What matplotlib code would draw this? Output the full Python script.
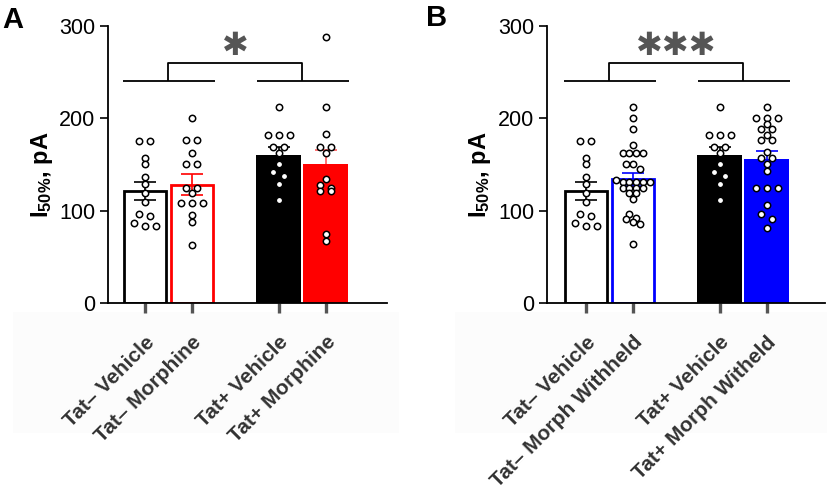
import numpy as np
import matplotlib.pyplot as plt
from matplotlib.patches import Rectangle

plt.rcParams['font.family'] = ['Liberation Sans', 'DejaVu Sans']
plt.rcParams['mathtext.fontset'] = 'custom'
plt.rcParams['mathtext.rm'] = 'Liberation Sans:bold'
plt.rcParams['mathtext.bf'] = 'Liberation Sans:bold'
plt.rcParams['mathtext.it'] = 'Liberation Sans:bold'

# ---- data ----
labels_a = ["Tat\u2013 Vehicle", "Tat\u2013 Morphine", "Tat+ Vehicle", "Tat+ Morphine"]
labels_b = ["Tat\u2013 Vehicle", "Tat\u2013 Morph Withheld", "Tat+ Vehicle", "Tat+ Morph Witheld"]

means_a = [121.4, 128.2, 160.3, 150.2]
sem_a = [10.1, 11.2, 9.0, 15.5]
means_b = [121.4, 134.0, 160.3, 156.0]
sem_b = [10.1, 7.2, 9.0, 8.5]

tat_neg_vehicle = [175, 175, 157, 151, 137, 129, 119, 110, 97, 94, 87, 83, 83]
tat_neg_morphine = [200, 176, 176, 162, 150, 150, 125, 125, 119, 108, 108, 108, 95, 88, 63]
tat_pos_vehicle = [212, 182, 182, 182, 169, 169, 162, 150, 142, 138, 129, 112]
tat_pos_morphine = [288, 212, 183, 169, 169, 162, 134, 128, 125, 121, 121, 75, 67]
tat_neg_withheld = [212, 200, 188, 171, 162, 162, 162, 162, 150, 150, 145, 133, 131, 131,
                    131, 131, 131, 125, 125, 125, 125, 119, 119, 113, 97, 92, 91, 88, 86, 64]
tat_pos_withheld = [212, 200, 200, 200, 194, 188, 188, 182, 176, 176, 163, 157, 157, 150,
                    143, 125, 125, 125, 106, 96, 91, 81]

positions = [0, 1, 2.85, 3.85]

RED = '#ff0000'
BLUE = '#0000ff'
GREY = '#333333'


def swarm_offsets(vals, px_per_x, step_px=11.0, width_px=34.0, row_gap=5.5):
    vals = np.asarray(vals, dtype=float)
    order = np.argsort(-vals, kind='stable')
    rows = []
    for i in order:
        if rows and vals[rows[-1][0]] - vals[i] < row_gap:
            rows[-1].append(i)
        else:
            rows.append([i])
    longest = max(len(r) for r in rows)
    step = step_px if longest < 2 else min(step_px, width_px / (longest - 1))
    off = np.zeros(len(vals))
    for r in rows:
        k = len(r)
        for j, i in enumerate(r):
            off[i] = (j - (k - 1) / 2) * step / px_per_x
    return off


def panel(ax, labels, means, sems, dots, colors, err_colors, filled, stars, xlim):
    ax.set_xlim(*xlim)
    ax.set_ylim(0, 300)
    px_per_x = ax.bbox.width / (xlim[1] - xlim[0])
    for i in range(4):
        x = positions[i]
        if filled[i]:
            ax.bar(x, means[i], width=0.96, color=colors[i], edgecolor='none', zorder=1)
            ez = 0.5
        else:
            ax.bar(x, means[i], width=0.89, color='white', edgecolor=colors[i],
                   linewidth=2.0, zorder=1)
            ez = 2
        ax.errorbar(x, means[i], yerr=sems[i], color=err_colors[i], capsize=8,
                    elinewidth=1.2, capthick=1.2, zorder=ez)
        off = swarm_offsets(dots[i], px_per_x)
        ax.scatter(x + off, dots[i], s=21, facecolor='white', edgecolor='black',
                   linewidth=1.1, zorder=3, clip_on=False)

    # significance bracket
    mid1 = (positions[0] + positions[1]) / 2
    mid2 = (positions[2] + positions[3]) / 2
    kw = dict(color='black', lw=1.3, solid_capstyle='butt', clip_on=False)
    ax.plot([positions[0] - 0.47, positions[1] + 0.5], [240, 240], **kw)
    ax.plot([positions[2] - 0.47, positions[3] + 0.5], [240, 240], **kw)
    ax.plot([mid1, mid1, mid2, mid2], [240, 260, 260, 240], **kw)
    ax.text((mid1 + mid2) / 2, 261, stars, ha='center', va='bottom', fontsize=23,
            color='#555555', family=['DejaVu Sans'])

    for s in ['top', 'right']:
        ax.spines[s].set_visible(False)
    ax.spines['left'].set_linewidth(1.3)
    ax.spines['bottom'].set_linewidth(1.3)
    ax.set_yticks([0, 100, 200, 300])
    ax.tick_params(axis='y', length=6, width=1.2, labelsize=15.5, pad=3)
    ax.set_xticks(positions)
    ax.set_xticklabels(labels, rotation=45, ha='right', rotation_mode='anchor',
                       fontsize=15, fontweight='bold', color=GREY)
    ax.tick_params(axis='x', length=7, width=2.4, color='#555555', pad=14)


fig = plt.figure(figsize=(8.28, 4.99), dpi=100)
W, H = 828, 499

# faint label background boxes
fig.patches.append(Rectangle((13 / W, 1 - 433 / H), 386 / W, 121 / H,
                             transform=fig.transFigure, facecolor='#fcfcfc',
                             edgecolor='none', zorder=-1))
fig.patches.append(Rectangle((455 / W, 1 - 433 / H), 372 / W, 121 / H,
                             transform=fig.transFigure, facecolor='#fcfcfc',
                             edgecolor='none', zorder=-1))

ax_a = fig.add_axes([108 / W, 1 - 303.3 / H, 279 / W, 277.6 / H])
ax_b = fig.add_axes([546.7 / W, 1 - 303.3 / H, 278.3 / W, 277.6 / H])
ax_a.patch.set_alpha(0)
ax_b.patch.set_alpha(0)

panel(ax_a, labels_a, means_a, sem_a,
      [tat_neg_vehicle, tat_neg_morphine, tat_pos_vehicle, tat_pos_morphine],
      ['black', RED, 'black', RED], ['black', RED, 'black', '#ff5a5a'],
      [False, False, True, True], "\u2731", (-0.787, 5.15))
panel(ax_b, labels_b, means_b, sem_b,
      [tat_neg_vehicle, tat_neg_withheld, tat_pos_vehicle, tat_pos_withheld],
      ['black', BLUE, 'black', BLUE], ['black', BLUE, 'black', BLUE],
      [False, False, True, True], "\u2731\u2731\u2731", (-0.83, 5.09))

ylab = r"I$_{50\%}$, pA"
fig.text(42 / W, 1 - 175 / H, ylab, rotation=90, ha='center', va='center',
         fontsize=17, fontweight='bold')
fig.text(480 / W, 1 - 175 / H, ylab, rotation=90, ha='center', va='center',
         fontsize=17, fontweight='bold')

fig.text(2 / W, 1 - 6 / H, "A", ha='left', va='top', fontsize=21, fontweight='bold')
fig.text(426 / W, 1 - 4 / H, "B", ha='left', va='top', fontsize=21, fontweight='bold')

fig.savefig('out.png', dpi=100)
